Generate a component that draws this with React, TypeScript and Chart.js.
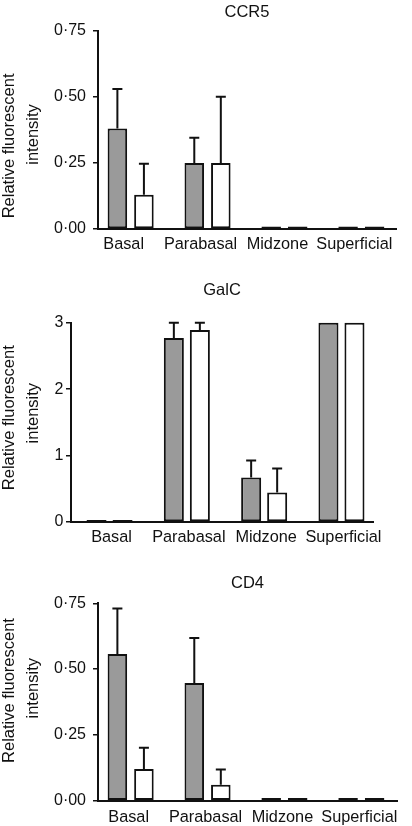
import React, { useEffect, useRef } from "react";
import { Chart, registerables } from "chart.js";

Chart.register(...registerables);

// ---------- data ----------
const categories = ["Basal", "Parabasal", "Midzone", "Superficial"];

// CCR5
const ccr5Filled = [0.38, 0.25, 0.01, 0.01];
const ccr5FilledErr = [0.15, 0.095, 0, 0];
const ccr5Open = [0.13, 0.25, 0.01, 0.01];
const ccr5OpenErr = [0.117, 0.25, 0, 0];
const ccr5Ticks = [0, 0.25, 0.5, 0.75];

// GalC
const galcFilled = [0.03, 2.77, 0.67, 3.0];
const galcFilledErr = [0, 0.23, 0.255, 0];
const galcOpen = [0.03, 2.89, 0.445, 3.0];
const galcOpenErr = [0, 0.11, 0.36, 0];
const galcTicks = [0, 1, 2, 3];

// CD4
const cd4Filled = [0.557, 0.447, 0.01, 0.01];
const cd4FilledErr = [0.173, 0.171, 0, 0];
const cd4Open = [0.12, 0.06, 0.01, 0.01];
const cd4OpenErr = [0.081, 0.058, 0, 0];
const cd4Ticks = [0, 0.25, 0.5, 0.75];

const yTitleLines = ["Relative fluorescent", "intensity"];

// ---------- styles ----------
const FONT = "'Liberation Sans', Arial, Helvetica, sans-serif";
const INK = "#111111";
const GREY = "#9a9a9a";
const WHITE = "#ffffff";
const TICK_FONT_SIZE = 16;
const X_FONT_SIZE = 16.3;
const TICK_LINE_HEIGHT = 1.2;
const TITLE_FONT_SIZE = 16.5;

type PanelSpec = {
  title: string;
  filled: number[];
  filledErr: number[];
  open: number[];
  openErr: number[];
  yTicks: number[];
  decimals: number;
  top: number;
  height: number;
  titlePad: { top: number; bottom: number };
  yWidth: number;
  yTickPad: number;
  xMin: number;
  xMax: number;
  xLabelPad: number;
  labelOffset: number;
  bottomPad: number;
  rightPad: number;
  catPct: number;
  barPct: number;
  yTitleLead: [number, number];
};

const pad = (s: string, n: number) =>
  n >= 0 ? " ".repeat(n) + s : s + " ".repeat(-n);

const panels: PanelSpec[] = [
  {
    title: "CCR5",
    filled: ccr5Filled,
    filledErr: ccr5FilledErr,
    open: ccr5Open,
    openErr: ccr5OpenErr,
    yTicks: ccr5Ticks,
    decimals: 2,
    top: 0,
    height: 258,
    titlePad: { top: 2.1, bottom: 8.8 },
    yWidth: 101,
    yTickPad: 7,
    xMin: -0.4246,
    xMax: 3.4506,
    xLabelPad: 6,
    labelOffset: -7,
    bottomPad: 3.4,
    rightPad: 16,
    catPct: 0.69,
    barPct: 0.736,
    yTitleLead: [-7, -2],
  },
  {
    title: "GalC",
    filled: galcFilled,
    filledErr: galcFilledErr,
    open: galcOpen,
    openErr: galcOpenErr,
    yTicks: galcTicks,
    decimals: 0,
    top: 272,
    height: 278,
    titlePad: { top: 8.1, bottom: 22.8 },
    yWidth: 74,
    yTickPad: 2.5,
    xMin: -0.4987,
    xMax: 3.408,
    xLabelPad: 5.6,
    labelOffset: 2,
    bottomPad: 2.9,
    rightPad: 39,
    catPct: 0.673,
    barPct: 0.77,
    yTitleLead: [2, 4],
  },
  {
    title: "CD4",
    filled: cd4Filled,
    filledErr: cd4FilledErr,
    open: cd4Open,
    openErr: cd4OpenErr,
    yTicks: cd4Ticks,
    decimals: 2,
    top: 555,
    height: 276,
    titlePad: { top: 18.6, bottom: 9.9 },
    yWidth: 101,
    yTickPad: 7,
    xMin: -0.4246,
    xMax: 3.4636,
    xLabelPad: 6.9,
    labelOffset: -2,
    bottomPad: 3.9,
    rightPad: 15,
    catPct: 0.69,
    barPct: 0.736,
    yTitleLead: [5, 6],
  },
];

const errorBarPlugin = {
  id: "errorBars",
  afterDatasetsDraw(chart: any, _args: any, opts: any) {
    const errs: number[][] = opts && opts.errors;
    if (!errs) return;
    const ctx = chart.ctx;
    const yScale = chart.scales.y;
    ctx.save();
    ctx.strokeStyle = opts.color || INK;
    ctx.lineWidth = opts.lineWidth || 2;
    ctx.lineCap = "butt";
    chart.data.datasets.forEach((ds: any, d: number) => {
      const meta = chart.getDatasetMeta(d);
      meta.data.forEach((bar: any, i: number) => {
        const e = errs[d] ? errs[d][i] : 0;
        if (!e) return;
        const v = ds.data[i].y;
        const top = yScale.getPixelForValue(v + e);
        const { x, y } = bar.getProps(["x", "y"], true);
        const half = opts.capHalf || 5;
        ctx.beginPath();
        ctx.moveTo(x, y);
        ctx.lineTo(x, top);
        ctx.moveTo(x - half, top);
        ctx.lineTo(x + half, top);
        ctx.stroke();
      });
    });
    ctx.restore();
  },
};

const CANVAS_W = 415;
const CANVAS_LEFT = -3;

function Panel({ spec }: { spec: PanelSpec }) {
  const ref = useRef<HTMLCanvasElement | null>(null);

  useEffect(() => {
    if (!ref.current) return;
    const toPoints = (arr: number[]) => arr.map((y, i) => ({ x: i, y }));
    const yMin = spec.yTicks[0];
    const yMax = spec.yTicks[spec.yTicks.length - 1];
    const chart = new Chart(ref.current, {
      type: "bar",
      data: {
        datasets: [
          {
            data: toPoints(spec.filled),
            backgroundColor: GREY,
            borderColor: INK,
            borderWidth: 2,
            borderSkipped: false,
            categoryPercentage: spec.catPct,
            barPercentage: spec.barPct,
            clip: false,
          } as any,
          {
            data: toPoints(spec.open),
            backgroundColor: WHITE,
            borderColor: INK,
            borderWidth: 2,
            borderSkipped: false,
            categoryPercentage: spec.catPct,
            barPercentage: spec.barPct,
            clip: false,
          } as any,
        ],
      },
      options: {
        animation: false,
        responsive: false,
        devicePixelRatio: 1,
        events: [],
        layout: {
          autoPadding: false,
          padding: { left: 0, top: 0, right: spec.rightPad, bottom: spec.bottomPad },
        },
        plugins: {
          legend: { display: false },
          tooltip: { enabled: false },
          title: {
            display: true,
            text: spec.title,
            color: INK,
            fullSize: false,
            font: { family: FONT, size: TITLE_FONT_SIZE, weight: "normal", lineHeight: 1.2 },
            padding: spec.titlePad,
          },
          errorBars: {
            errors: [spec.filledErr, spec.openErr],
            color: INK,
            lineWidth: 2,
            capHalf: 5,
          },
        } as any,
        scales: {
          x: {
            type: "linear",
            min: spec.xMin,
            max: spec.xMax,
            bounds: "data",
            offset: false,
            grid: { display: true, drawOnChartArea: false, drawTicks: false, offset: false },
            border: { display: true, color: INK, width: 2 },
            afterBuildTicks: (scale: any) => {
              scale.ticks = categories.map((_, i) => ({ value: i }));
            },
            afterFit: (scale: any) => {
              scale.height = spec.xLabelPad + X_FONT_SIZE * TICK_LINE_HEIGHT;
            },
            ticks: {
              autoSkip: false,
              maxRotation: 0,
              minRotation: 0,
              padding: spec.xLabelPad,
              labelOffset: spec.labelOffset,
              color: INK,
              font: { family: FONT, size: X_FONT_SIZE, lineHeight: TICK_LINE_HEIGHT },
              callback: (v: any) => {
                const n = Math.round(Number(v));
                return categories[n] !== undefined ? categories[n] : "";
              },
            },
          } as any,
          y: {
            type: "linear",
            min: yMin,
            max: yMax,
            grid: {
              display: true,
              drawOnChartArea: false,
              drawTicks: true,
              tickLength: 5,
              color: INK,
              lineWidth: 1.5,
            },
            border: { display: true, color: INK, width: 2 },
            ticks: {
              padding: spec.yTickPad,
              color: INK,
              font: { family: FONT, size: TICK_FONT_SIZE, lineHeight: TICK_LINE_HEIGHT },
              callback: (v: any) =>
                Number(v).toFixed(spec.decimals).replace(".", "\u00B7"),
            },
            afterBuildTicks: (scale: any) => {
              scale.ticks = spec.yTicks.map((value) => ({ value }));
            },
            afterFit: (scale: any) => {
              scale.width = spec.yWidth;
            },
            title: {
              display: true,
              text: [
                pad(yTitleLines[0], spec.yTitleLead[0]),
                pad(yTitleLines[1], spec.yTitleLead[1]),
              ],
              color: INK,
              font: { family: FONT, size: 16.5, lineHeight: 24 / 16.5 },
              padding: { top: 0, bottom: 0 },
            },
          } as any,
        },
      },
      plugins: [errorBarPlugin as any],
    });
    return () => chart.destroy();
  }, [spec]);

  return (
    <canvas
      ref={ref}
      width={CANVAS_W}
      height={spec.height}
      style={{
        position: "absolute",
        left: CANVAS_LEFT,
        top: spec.top,
        width: CANVAS_W,
        height: spec.height,
        display: "block",
      }}
    />
  );
}

export default function App() {
  return (
    <div
      style={{
        position: "fixed",
        left: 0,
        top: 0,
        width: 412,
        height: 826,
        overflow: "hidden",
        background: "#ffffff",
      }}
    >
      {panels.map((p) => (
        <Panel key={p.title} spec={p} />
      ))}
    </div>
  );
}
